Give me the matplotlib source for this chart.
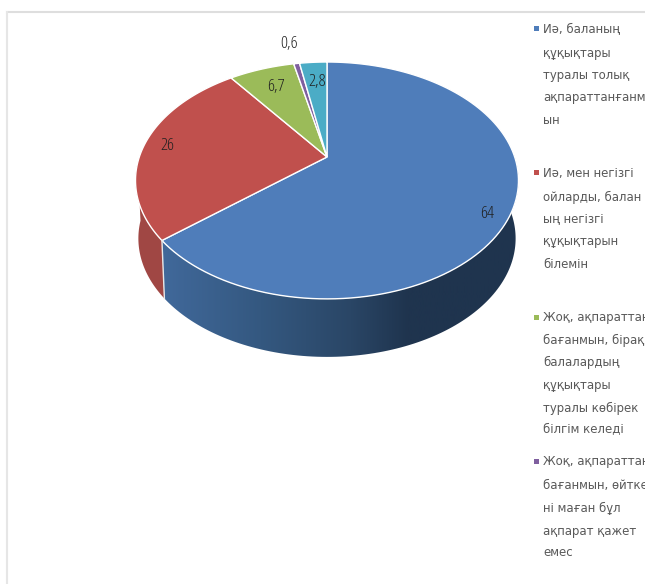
import numpy as np
import matplotlib
matplotlib.use("Agg")
import matplotlib.pyplot as plt
from matplotlib.colors import LinearSegmentedColormap
from matplotlib.patches import Polygon, Rectangle

# values of the pie, clockwise from the top
values = [64, 26, 6.7, 0.6, 2.8]
value_labels = ["64", "26", "6,7", "0,6", "2,8"]
colors = ["#4f7dba", "#c0504d", "#9bbb59", "#7f5f9f", "#4bacc6"]

legend_entries = [
    ["Иә, баланың", "құқықтары", "туралы толық", "ақпараттанғанм", "ын"],
    ["Иә, мен негізгі", "ойларды, балан", "ың негізгі", "құқықтарын", "білемін"],
    ["Жоқ, ақпараттан", "бағанмын, бірақ", "балалардың", "құқықтары", "туралы көбірек", "білгім келеді"],
    ["Жоқ, ақпараттан", "бағанмын, өйтке", "ні маған бұл", "ақпарат қажет", "емес"],
]
legend_line_y = [
    [29, 53, 76, 98, 120],
    [173, 197, 220, 242, 264],
    [318, 340, 362, 385, 408, 430],
    [462, 485, 508, 531, 553],
]

W, H = 645, 584
CX, CY = 327, 157
K = 0.198
A = 113.8
B = 187.7
DEPTH = 58


def project(theta, depth=0.0, shrink=1.0):
    # theta in radians, clockwise from the top of the pie
    x = np.sin(theta)
    y = np.cos(theta)
    w = 1 + K * y
    return CX + B * shrink * x / w, CY - A * y / w + depth


def arc(a0, a1, depth=0.0, shrink=1.0, n=120):
    t = np.linspace(a0, a1, n)
    px, py = project(t, depth, shrink)
    return np.column_stack((px, py))


fig = plt.figure(figsize=(W / 100, H / 100), dpi=100)
ax = fig.add_axes([0, 0, 1, 1])
ax.axis("off")

fractions = np.array(values) / sum(values)
edges = np.concatenate(([0], np.cumsum(fractions))) * 2 * np.pi

# side wall: blue part with gradient
side_start = np.pi / 2 - 0.03
blue_side = np.vstack((arc(side_start, edges[1]), arc(edges[1], side_start, DEPTH, 0.985)))
gradient = LinearSegmentedColormap.from_list(
    "side", [(0, "#41699b"), (0.28, "#345880"), (0.53, "#2a4666"), (0.69, "#1f344e"), (1, "#1f344e")])
im = ax.imshow(np.linspace(0, 1, 256).reshape(1, -1), cmap=gradient, aspect="auto",
               extent=(160, 520, H, 0), zorder=1)
patch = Polygon(blue_side, closed=True, fc="none", ec="none")
ax.add_patch(patch)
im.set_clip_path(patch)
ax.set_xlim(0, W)
ax.set_ylim(H, 0)

# chart frame, only top and left show
ax.plot([7, W], [12, 12], color="#dedede", lw=1.5)
ax.plot([7, 7], [12, H], color="#e6e6e6", lw=1.5)

# side wall: red part
red_end = 3 * np.pi / 2 - 0.05
red_side = np.vstack((arc(edges[1], red_end), arc(red_end, edges[1], DEPTH, 0.985)))
ax.add_patch(Polygon(red_side, closed=True, fc="#a04744", ec="none", zorder=1))

# top slices
for i, col in enumerate(colors):
    pts = np.vstack(([[CX, CY]], arc(edges[i], edges[i + 1])))
    ax.add_patch(Polygon(pts, closed=True, fc=col, ec="white", lw=1.0, zorder=2))

# white seam between the side walls
seam = np.array([project(edges[1]), project(edges[1], DEPTH, 0.985)])
ax.plot(seam[:, 0], seam[:, 1], color="#e8e8e8", lw=1, zorder=3)

# value labels
label_xy = [(487, 214), (167, 146), (276, 87), (289, 44), (317, 82)]
for txt, (lx, ly) in zip(value_labels, label_xy):
    ax.text(lx, ly, txt, fontsize=12.5, family="Open Sans", stretch="condensed",
            color="#202020", ha="center", va="center", zorder=4)

# legend
for entry, ys, col in zip(legend_entries, legend_line_y, colors):
    ax.add_patch(Rectangle((533.5, ys[0] - 3), 5, 5, fc=col, ec="none"))
    for line, y in zip(entry, ys):
        ax.text(543, y, line, fontsize=9.4, family="DejaVu Sans", stretch="condensed",
                color="#595959", ha="left", va="center")

fig.savefig("out.png", dpi=100)
